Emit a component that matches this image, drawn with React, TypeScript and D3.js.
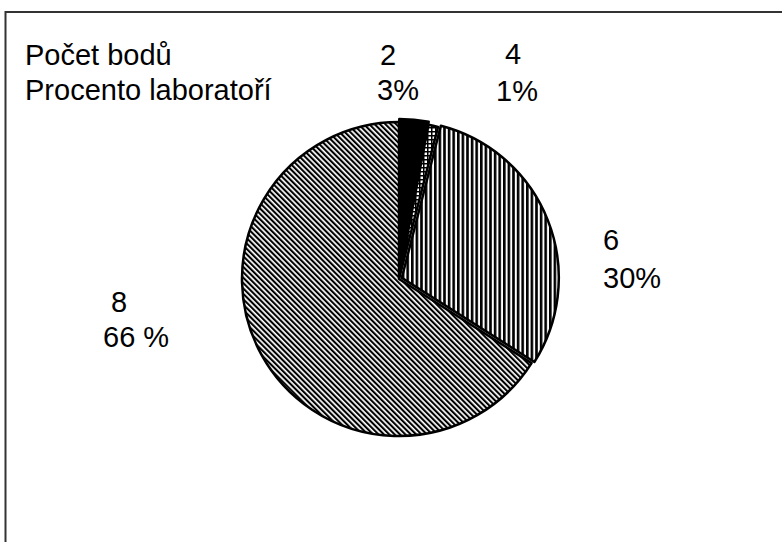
import React from "react";
import * as d3 from "d3";

const points = ["2", "4", "6", "8"];
const percents = [3, 1, 30, 66];
const percentLabels = ["3%", "1%", "30%", "66 %"];
const patternIds = ["solid", "grid", "vert", "diag"];
const explode = [3, 0, 3, 0];

const W = 782;
const H = 542;

export default function App() {
  const cx = 399;
  const cy = 279;
  const r = 157;
  const pie = d3.pie<number>().sort(null).value((d) => d)(percents);
  const arc = d3.arc<d3.PieArcDatum<number>>().innerRadius(0).outerRadius(r);

  const labelPos: { x1: number; y1: number; x2: number; y2: number }[] = [
    { x1: 380, y1: 65, x2: 377, y2: 100 },
    { x1: 505, y1: 64, x2: 496, y2: 101 },
    { x1: 603, y1: 250, x2: 603, y2: 288 },
    { x1: 111, y1: 312, x2: 103, y2: 347 },
  ];

  const font = "'Liberation Sans', Arial, sans-serif";
  const fs = 29;

  return (
    <svg
      width={W}
      height={H}
      style={{ position: "absolute", left: 0, top: 0, background: "#fff" }}
    >
      <defs>
        <pattern id="vert" patternUnits="userSpaceOnUse" width={4.6} height={10}>
          <rect width={4.6} height={10} fill="#fff" />
          <rect x={0} width={2.6} height={10} fill="#000" />
        </pattern>
        <pattern
          id="diag"
          patternUnits="userSpaceOnUse"
          width={3.8}
          height={10}
          patternTransform="rotate(-45)"
        >
          <rect width={3.8} height={10} fill="#fff" />
          <rect x={0} width={2.1} height={10} fill="#000" />
        </pattern>
        <pattern id="grid" patternUnits="userSpaceOnUse" width={4} height={4}>
          <rect width={4} height={4} fill="#fff" />
          <rect x={0} width={1.5} height={4} fill="#000" />
          <rect y={0} width={4} height={1.5} fill="#000" />
        </pattern>
      </defs>
      <rect width={W} height={H} fill="#fff" />
      <path
        d={`M${W + 5},12 H5.5 V${H + 5}`}
        fill="none"
        stroke="#333"
        strokeWidth={2}
      />
      <g transform={`translate(${cx},${cy})`}>
        {pie.map((s, i) => {
          const mid = (s.startAngle + s.endAngle) / 2;
          const dx = Math.sin(mid) * explode[i];
          const dy = -Math.cos(mid) * explode[i];
          const fill = patternIds[i] === "solid" ? "#000" : `url(#${patternIds[i]})`;
          return (
            <path
              key={points[i]}
              d={arc(s) || ""}
              transform={`translate(${dx},${dy})`}
              fill={fill}
              stroke="#000"
              strokeWidth={2.5}
              strokeLinejoin="round"
            />
          );
        })}
      </g>
      <g fontFamily={font} fontSize={fs} fill="#000">
        <text x={25} y={65}>Počet bodů</text>
        <text x={25} y={100}>Procento laboratoří</text>
        {points.map((p, i) => (
          <g key={p}>
            <text x={labelPos[i].x1} y={labelPos[i].y1}>{p}</text>
            <text x={labelPos[i].x2} y={labelPos[i].y2}>{percentLabels[i]}</text>
          </g>
        ))}
      </g>
    </svg>
  );
}
